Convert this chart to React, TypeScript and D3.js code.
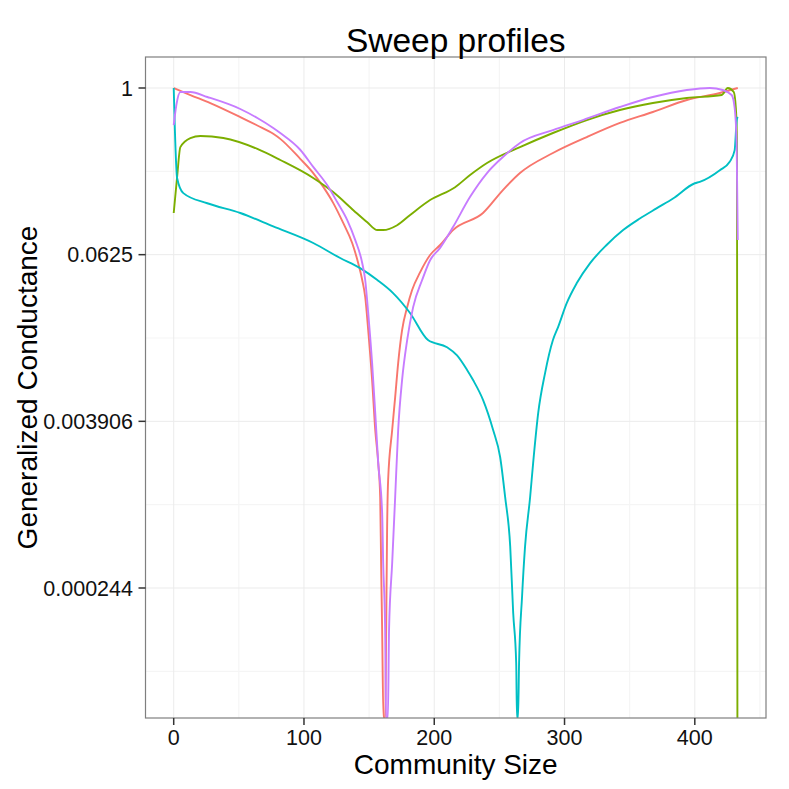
import * as d3 from 'd3';

// Sweep profiles: [community size, generalized conductance]; 0 = -Inf on the log axis
const sweepRed: [number, number][] = [
  [0, 1.0], [12.8, 0.89], [28.1, 0.779], [51.1, 0.617], [64.2, 0.536], [76.4, 0.467],
  [81.8, 0.429], [97.1, 0.308], [107.1, 0.243], [114.8, 0.193], [122.4, 0.148],
  [130.1, 0.106], [137, 0.0759], [141.6, 0.0544], [144.7, 0.041], [147, 0.0309],
  [149.3, 0.0178], [152.3, 0.00776], [154.7, 0.00338], [157, 0.00195], [158.5, 0.00111],
  [159.2, 0.00037], [160, 0.000122], [161, 0], [162.4, 0], [163.1, 0.000122],
  [163.8, 0.000644], [164.6, 0.00147], [167.7, 0.00338], [170, 0.00585], [172.3, 0.0103],
  [175.3, 0.0178], [179.2, 0.0261], [183, 0.0347], [189.1, 0.0465], [196.8, 0.0621],
  [204.5, 0.0734], [214.4, 0.0941], [237.4, 0.125], [252.7, 0.183], [265.8, 0.243],
  [291.1, 0.339], [317.1, 0.442], [342.5, 0.559], [367.8, 0.671], [393.9, 0.819],
  [419.2, 0.92], [433, 1.0],
];

const sweepGreen: [number, number][] = [
  [0, 0.125], [2.6, 0.227], [5.1, 0.374], [12.8, 0.435], [20.5, 0.45], [38.1, 0.435],
  [64.2, 0.363], [81.8, 0.302], [107.1, 0.224], [122.4, 0.177], [137.9, 0.131],
  [148.6, 0.107], [156.3, 0.0941], [160.8, 0.0941], [171.5, 0.102], [181.5, 0.121],
  [196.8, 0.155], [216, 0.192], [227.5, 0.235], [240.5, 0.287], [265.8, 0.374],
  [291.1, 0.473], [317.1, 0.587], [342.5, 0.693], [367.8, 0.779], [393.9, 0.847],
  [420.7, 0.89], [425.3, 1.0], [429.9, 0.936], [431.5, 0.72], [432.4, 0.406], [432.7, 0],
];

const sweepCyan: [number, number][] = [
  [0, 1.0], [0.9, 0.5], [2.6, 0.224], [7.4, 0.174], [25.8, 0.147], [51.1, 0.125],
  [76.4, 0.1], [107.1, 0.0759], [127.8, 0.0591], [143.1, 0.05], [156.3, 0.041],
  [168.4, 0.033], [181.4, 0.0237], [195.2, 0.0151], [209.8, 0.0134], [217.5, 0.0117],
  [225.2, 0.00918], [229.8, 0.00776], [237.5, 0.00556], [245.2, 0.00338], [250.6, 0.00215],
  [254.4, 0.00111], [258.3, 0.000488], [260.6, 0.000161], [262.9, 0.0000701], [263.5, 0],
  [264.3, 0], [265.1, 0.0000701], [267.4, 0.000212], [269.7, 0.000488], [273.6, 0.00111],
  [275.9, 0.00195], [279.8, 0.00449], [285.1, 0.00875], [291.1, 0.0151], [295.2, 0.0189],
  [301.6, 0.0278], [309.3, 0.0388], [319.5, 0.0541], [332.3, 0.0734], [345, 0.0941],
  [357.8, 0.114], [370.6, 0.135], [383.3, 0.159], [400, 0.205], [403.8, 0.21],
  [419.2, 0.255], [426.8, 0.293], [430.6, 0.356], [432.2, 0.587], [433, 0.617],
];

const sweepPurple: [number, number][] = [
  [0, 0.54], [2, 0.75], [5.1, 0.936], [12.8, 0.936], [25.8, 0.861], [51.1, 0.705],
  [64.2, 0.607], [76.4, 0.514], [81.8, 0.473], [97.1, 0.358], [107.1, 0.269],
  [117.8, 0.199], [125.5, 0.15], [133.2, 0.111], [139.3, 0.0799], [144.7, 0.0544],
  [147, 0.041], [149.3, 0.0237], [152.3, 0.0103], [154.7, 0.00449], [157, 0.00195],
  [160, 0.00085], [160.8, 0.00037], [162.3, 0.000122], [163, 0], [164.4, 0],
  [165.3, 0.000122], [167.7, 0.00037], [170, 0.00111], [172.3, 0.00338], [175.3, 0.00776],
  [179.2, 0.0151], [183.8, 0.0261], [190.7, 0.041], [196.8, 0.057], [204.5, 0.07],
  [214.4, 0.0989], [227.4, 0.163], [240.5, 0.243], [252.7, 0.317], [265.8, 0.401],
  [291.1, 0.497], [314.1, 0.587], [342.5, 0.729], [367.8, 0.861], [393.9, 0.967],
  [411.5, 1.0], [421.4, 0.967], [428.3, 0.89], [430.6, 0.717], [432.1, 0.406], [433, 0.0797],
];

const seriesList = [sweepRed, sweepGreen, sweepCyan, sweepPurple];
const seriesColors = ['#F8766D', '#7CAE00', '#00BFC4', '#C77CFF'];

const xTicks = [0, 100, 200, 300, 400];
const xMinor = [50, 150, 250, 350, 450];
const yTickExp = [0, -4, -8, -12];
const yTickLabels = ['1', '0.0625', '0.003906', '0.000244'];
const yMinorExp = [-2, -6, -10, -14];

const W = 789;
const H = 789;
const panel = { left: 145.5, right: 766, top: 57, bottom: 718 };
const font = '"Liberation Sans", Arial, Helvetica, sans-serif';

export default function App() {
  const x = d3.scaleLinear().domain([-21.65, 454.65]).range([panel.left, panel.right]);
  const y = d3
    .scaleLog()
    .base(2)
    .domain([Math.pow(2, -15.12), Math.pow(2, 0.744)])
    .range([panel.bottom, panel.top]);

  // -Inf values are squished onto the panel edge, like ggplot does
  const yPos = (v: number) => (v > 0 ? y(v) : panel.bottom);
  const line = d3
    .line<[number, number]>()
    .x(d => x(d[0]))
    .y(d => yPos(d[1]))
    .curve(d3.curveMonotoneX);

  const midX = (panel.left + panel.right) / 2;
  const midY = (panel.top + panel.bottom) / 2;

  return (
    <svg width={W} height={H} style={{ position: 'absolute', left: 0, top: 0 }} fontFamily={font}>
      <rect width={W} height={H} fill="#fff" />
      <defs>
        <clipPath id="panel-clip">
          <rect x={panel.left} y={panel.top} width={panel.right - panel.left} height={panel.bottom - panel.top} />
        </clipPath>
      </defs>

      {/* grid */}
      <g>
        {xMinor.map(t => (
          <line key={'xm' + t} x1={x(t)} x2={x(t)} y1={panel.top} y2={panel.bottom} stroke="#f5f5f5" strokeWidth={1.2} />
        ))}
        {yMinorExp.map(e => (
          <line key={'ym' + e} x1={panel.left} x2={panel.right} y1={y(Math.pow(2, e))} y2={y(Math.pow(2, e))} stroke="#f5f5f5" strokeWidth={1.2} />
        ))}
        {xTicks.map(t => (
          <line key={'xg' + t} x1={x(t)} x2={x(t)} y1={panel.top} y2={panel.bottom} stroke="#ebebeb" strokeWidth={1} />
        ))}
        {yTickExp.map(e => (
          <line key={'yg' + e} x1={panel.left} x2={panel.right} y1={y(Math.pow(2, e))} y2={y(Math.pow(2, e))} stroke="#ebebeb" strokeWidth={1} />
        ))}
      </g>

      {/* sweep lines */}
      <g clipPath="url(#panel-clip)">
        {seriesList.map((s, i) => (
          <path key={i} d={line(s) || ''} fill="none" stroke={seriesColors[i]} strokeWidth={1.9} strokeLinejoin="round" />
        ))}
      </g>

      <rect
        x={panel.left}
        y={panel.top}
        width={panel.right - panel.left}
        height={panel.bottom - panel.top}
        fill="none"
        stroke="#7f7f7f"
        strokeWidth={1.2}
      />

      {/* x axis */}
      {xTicks.map(t => (
        <g key={'xt' + t}>
          <line x1={x(t)} x2={x(t)} y1={panel.bottom} y2={panel.bottom + 7} stroke="#333" strokeWidth={1.5} />
          <text x={x(t)} y={745} textAnchor="middle" fontSize={21.5} fill="#111">
            {t}
          </text>
        </g>
      ))}

      {/* y axis */}
      {yTickExp.map((e, i) => (
        <g key={'yt' + e}>
          <line x1={panel.left - 7} x2={panel.left} y1={y(Math.pow(2, e))} y2={y(Math.pow(2, e))} stroke="#333" strokeWidth={1.5} />
          <text x={133} y={y(Math.pow(2, e))} dy="0.36em" textAnchor="end" fontSize={21.5} fill="#111">
            {yTickLabels[i]}
          </text>
        </g>
      ))}

      <text x={midX} y={774} textAnchor="middle" fontSize={28} fill="#000">
        Community Size
      </text>
      <text transform={`translate(37,${midY}) rotate(-90)`} textAnchor="middle" fontSize={28} fill="#000">
        Generalized Conductance
      </text>
      <text x={midX} y={52} textAnchor="middle" fontSize={33.5} fill="#000">
        Sweep profiles
      </text>
    </svg>
  );
}
